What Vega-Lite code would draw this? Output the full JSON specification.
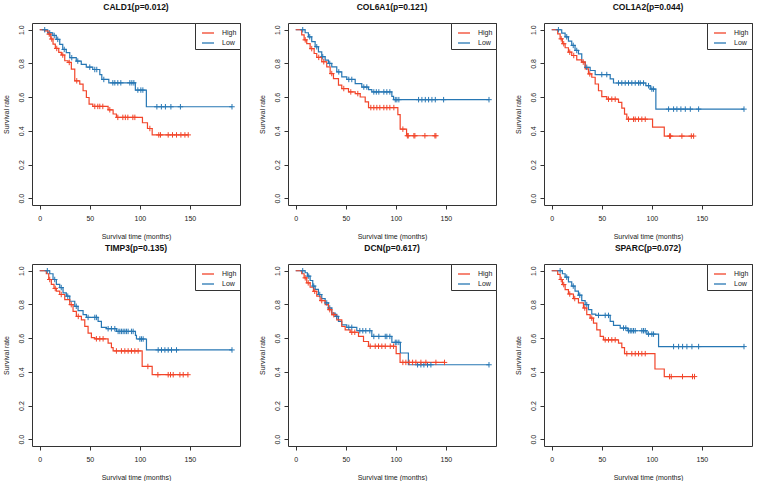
{
  "$schema": "https://vega.github.io/schema/vega-lite/v6.json",
  "background": "white",
  "padding": {"left": 1, "top": 2, "right": 0, "bottom": 0},
  "config": {
    "font": "Liberation Sans",
    "view": {"stroke": "#333333", "strokeWidth": 1},
    "axis": {"grid": false, "domain": false, "tickColor": "#333333", "tickSize": 4, "labelFontSize": 7, "titleFontSize": 7, "titleFontWeight": "normal", "labelColor": "#222222", "titleColor": "#222222", "labelPadding": 4},
    "axisX": {"titlePadding": 11, "labelPadding": 5},
    "axisY": {"titlePadding": 8, "labelAngle": -90, "labelAlign": "center", "labelBaseline": "bottom"},
    "legend": {"orient": "top-right", "offset": 0, "strokeColor": "#333333", "fillColor": "white", "padding": 3, "symbolOffset": 3, "labelFontSize": 7, "labelColor": "#222222", "symbolSize": 144, "symbolStrokeWidth": 1.3, "rowPadding": -3, "labelOffset": 7},
    "title": {"fontSize": 8.5, "fontWeight": "bold", "offset": 11, "frame": "group", "color": "#111111"}
  },
  "datasets": {
    "CALD1": [
      {"k":"Low","t":0,"s":1,"c":0},{"k":"Low","t":5,"s":1,"c":1},{"k":"Low","t":8,"s":0.982,"c":0},{"k":"Low","t":10,"s":0.982,"c":1},{"k":"Low","t":13,"s":0.966,"c":0},{"k":"Low","t":14.5,"s":0.966,"c":1},{"k":"Low","t":16.5,"s":0.943,"c":0},{"k":"Low","t":18,"s":0.943,"c":1},{"k":"Low","t":20,"s":0.913,"c":0},{"k":"Low","t":23,"s":0.883,"c":0},{"k":"Low","t":24.5,"s":0.883,"c":1},{"k":"Low","t":26.5,"s":0.864,"c":0},{"k":"Low","t":30,"s":0.834,"c":0},{"k":"Low","t":32,"s":0.834,"c":1},{"k":"Low","t":36.5,"s":0.814,"c":0},{"k":"Low","t":38,"s":0.814,"c":1},{"k":"Low","t":41.5,"s":0.794,"c":0},{"k":"Low","t":46.5,"s":0.778,"c":0},{"k":"Low","t":50,"s":0.778,"c":1},{"k":"Low","t":53,"s":0.764,"c":0},{"k":"Low","t":55,"s":0.764,"c":1},{"k":"Low","t":57,"s":0.764,"c":1},{"k":"Low","t":60,"s":0.734,"c":0},{"k":"Low","t":62,"s":0.705,"c":0},{"k":"Low","t":64,"s":0.705,"c":1},{"k":"Low","t":69,"s":0.685,"c":0},{"k":"Low","t":73,"s":0.685,"c":1},{"k":"Low","t":75,"s":0.685,"c":1},{"k":"Low","t":78,"s":0.685,"c":1},{"k":"Low","t":81,"s":0.685,"c":1},{"k":"Low","t":90,"s":0.685,"c":1},{"k":"Low","t":92,"s":0.685,"c":1},{"k":"Low","t":94,"s":0.685,"c":1},{"k":"Low","t":95.5,"s":0.642,"c":0},{"k":"Low","t":98,"s":0.642,"c":1},{"k":"Low","t":101,"s":0.642,"c":1},{"k":"Low","t":103,"s":0.642,"c":1},{"k":"Low","t":106.5,"s":0.543,"c":0},{"k":"Low","t":117,"s":0.543,"c":1},{"k":"Low","t":121.5,"s":0.543,"c":1},{"k":"Low","t":125.5,"s":0.543,"c":1},{"k":"Low","t":131,"s":0.543,"c":1},{"k":"Low","t":140.5,"s":0.543,"c":1},{"k":"Low","t":192,"s":0.543,"c":1},
      {"k":"High","t":0,"s":1,"c":0},{"k":"High","t":5,"s":0.993,"c":0},{"k":"High","t":8.3,"s":0.974,"c":0},{"k":"High","t":9.5,"s":0.974,"c":1},{"k":"High","t":11,"s":0.945,"c":0},{"k":"High","t":12,"s":0.945,"c":1},{"k":"High","t":13.3,"s":0.915,"c":0},{"k":"High","t":15.6,"s":0.889,"c":0},{"k":"High","t":17,"s":0.889,"c":1},{"k":"High","t":19,"s":0.866,"c":0},{"k":"High","t":21.6,"s":0.85,"c":0},{"k":"High","t":23,"s":0.85,"c":1},{"k":"High","t":25,"s":0.816,"c":0},{"k":"High","t":28.3,"s":0.806,"c":0},{"k":"High","t":29.5,"s":0.806,"c":1},{"k":"High","t":31.6,"s":0.766,"c":0},{"k":"High","t":35,"s":0.697,"c":0},{"k":"High","t":37,"s":0.697,"c":1},{"k":"High","t":40,"s":0.677,"c":0},{"k":"High","t":43.3,"s":0.638,"c":0},{"k":"High","t":46.6,"s":0.598,"c":0},{"k":"High","t":49.3,"s":0.559,"c":0},{"k":"High","t":53,"s":0.545,"c":0},{"k":"High","t":55,"s":0.545,"c":1},{"k":"High","t":58,"s":0.545,"c":1},{"k":"High","t":60,"s":0.545,"c":1},{"k":"High","t":63,"s":0.545,"c":1},{"k":"High","t":68.3,"s":0.525,"c":0},{"k":"High","t":70,"s":0.525,"c":1},{"k":"High","t":73.3,"s":0.5,"c":0},{"k":"High","t":76.6,"s":0.48,"c":0},{"k":"High","t":78,"s":0.48,"c":1},{"k":"High","t":83,"s":0.48,"c":1},{"k":"High","t":85.5,"s":0.48,"c":1},{"k":"High","t":88,"s":0.48,"c":1},{"k":"High","t":93,"s":0.48,"c":1},{"k":"High","t":95,"s":0.48,"c":1},{"k":"High","t":102.6,"s":0.448,"c":0},{"k":"High","t":107.6,"s":0.414,"c":0},{"k":"High","t":110,"s":0.414,"c":1},{"k":"High","t":112.3,"s":0.376,"c":0},{"k":"High","t":118.9,"s":0.376,"c":1},{"k":"High","t":120.6,"s":0.376,"c":1},{"k":"High","t":128.3,"s":0.376,"c":1},{"k":"High","t":132.6,"s":0.376,"c":1},{"k":"High","t":136.6,"s":0.376,"c":1},{"k":"High","t":141,"s":0.376,"c":1},{"k":"High","t":145,"s":0.376,"c":1},{"k":"High","t":148.3,"s":0.376,"c":1}
    ],
    "COL6A1": [
      {"k":"Low","t":0,"s":1,"c":0},{"k":"Low","t":7,"s":1,"c":1},{"k":"Low","t":9.4,"s":0.982,"c":0},{"k":"Low","t":12.7,"s":0.958,"c":0},{"k":"Low","t":14,"s":0.958,"c":1},{"k":"Low","t":16,"s":0.929,"c":0},{"k":"Low","t":19.4,"s":0.899,"c":0},{"k":"Low","t":21,"s":0.899,"c":1},{"k":"Low","t":22.7,"s":0.869,"c":0},{"k":"Low","t":26,"s":0.84,"c":0},{"k":"Low","t":27,"s":0.84,"c":1},{"k":"Low","t":29.4,"s":0.82,"c":0},{"k":"Low","t":32.7,"s":0.8,"c":0},{"k":"Low","t":34,"s":0.8,"c":1},{"k":"Low","t":36,"s":0.78,"c":0},{"k":"Low","t":41,"s":0.75,"c":0},{"k":"Low","t":43,"s":0.75,"c":1},{"k":"Low","t":46,"s":0.72,"c":0},{"k":"Low","t":51,"s":0.705,"c":0},{"k":"Low","t":53,"s":0.705,"c":1},{"k":"Low","t":56,"s":0.705,"c":1},{"k":"Low","t":59.4,"s":0.68,"c":0},{"k":"Low","t":66,"s":0.66,"c":0},{"k":"Low","t":68,"s":0.66,"c":1},{"k":"Low","t":71,"s":0.66,"c":1},{"k":"Low","t":72.7,"s":0.645,"c":0},{"k":"Low","t":76,"s":0.631,"c":0},{"k":"Low","t":78,"s":0.631,"c":1},{"k":"Low","t":80.5,"s":0.631,"c":1},{"k":"Low","t":83,"s":0.631,"c":1},{"k":"Low","t":88,"s":0.631,"c":1},{"k":"Low","t":91,"s":0.631,"c":1},{"k":"Low","t":94,"s":0.631,"c":1},{"k":"Low","t":96,"s":0.605,"c":0},{"k":"Low","t":97.7,"s":0.585,"c":0},{"k":"Low","t":99.4,"s":0.585,"c":1},{"k":"Low","t":101,"s":0.585,"c":1},{"k":"Low","t":103,"s":0.585,"c":1},{"k":"Low","t":122.7,"s":0.585,"c":1},{"k":"Low","t":126,"s":0.585,"c":1},{"k":"Low","t":129.4,"s":0.585,"c":1},{"k":"Low","t":132.7,"s":0.585,"c":1},{"k":"Low","t":136,"s":0.585,"c":1},{"k":"Low","t":139.4,"s":0.585,"c":1},{"k":"Low","t":147.7,"s":0.585,"c":1},{"k":"Low","t":193,"s":0.585,"c":1},
      {"k":"High","t":0,"s":1,"c":0},{"k":"High","t":6,"s":0.97,"c":0},{"k":"High","t":8.4,"s":0.94,"c":0},{"k":"High","t":9.5,"s":0.94,"c":1},{"k":"High","t":11,"s":0.918,"c":0},{"k":"High","t":14.4,"s":0.888,"c":0},{"k":"High","t":16,"s":0.888,"c":1},{"k":"High","t":18.4,"s":0.859,"c":0},{"k":"High","t":21,"s":0.836,"c":0},{"k":"High","t":23,"s":0.836,"c":1},{"k":"High","t":26,"s":0.81,"c":0},{"k":"High","t":28,"s":0.81,"c":1},{"k":"High","t":31,"s":0.78,"c":0},{"k":"High","t":34.4,"s":0.74,"c":0},{"k":"High","t":36,"s":0.74,"c":1},{"k":"High","t":37.7,"s":0.71,"c":0},{"k":"High","t":42.7,"s":0.671,"c":0},{"k":"High","t":46,"s":0.651,"c":0},{"k":"High","t":48,"s":0.651,"c":1},{"k":"High","t":52.7,"s":0.631,"c":0},{"k":"High","t":55,"s":0.631,"c":1},{"k":"High","t":59.4,"s":0.621,"c":0},{"k":"High","t":62,"s":0.621,"c":1},{"k":"High","t":64.4,"s":0.601,"c":0},{"k":"High","t":69.4,"s":0.572,"c":0},{"k":"High","t":72.7,"s":0.538,"c":0},{"k":"High","t":75,"s":0.538,"c":1},{"k":"High","t":78,"s":0.538,"c":1},{"k":"High","t":81,"s":0.538,"c":1},{"k":"High","t":84,"s":0.538,"c":1},{"k":"High","t":88,"s":0.538,"c":1},{"k":"High","t":91,"s":0.538,"c":1},{"k":"High","t":94,"s":0.538,"c":1},{"k":"High","t":98,"s":0.538,"c":1},{"k":"High","t":102,"s":0.496,"c":0},{"k":"High","t":104.3,"s":0.41,"c":0},{"k":"High","t":107,"s":0.41,"c":1},{"k":"High","t":110.7,"s":0.371,"c":0},{"k":"High","t":111.5,"s":0.371,"c":1},{"k":"High","t":112.4,"s":0.371,"c":1},{"k":"High","t":118,"s":0.371,"c":1},{"k":"High","t":119,"s":0.371,"c":1},{"k":"High","t":129,"s":0.371,"c":1},{"k":"High","t":139,"s":0.371,"c":1},{"k":"High","t":140,"s":0.371,"c":1}
    ],
    "COL1A2": [
      {"k":"Low","t":0,"s":1,"c":0},{"k":"Low","t":6.7,"s":1,"c":1},{"k":"Low","t":10,"s":0.98,"c":0},{"k":"Low","t":13.4,"s":0.958,"c":0},{"k":"Low","t":15,"s":0.958,"c":1},{"k":"Low","t":16.7,"s":0.933,"c":0},{"k":"Low","t":20,"s":0.907,"c":0},{"k":"Low","t":21.5,"s":0.907,"c":1},{"k":"Low","t":23.3,"s":0.877,"c":0},{"k":"Low","t":25,"s":0.877,"c":1},{"k":"Low","t":26.7,"s":0.857,"c":0},{"k":"Low","t":30,"s":0.808,"c":0},{"k":"Low","t":33.4,"s":0.777,"c":0},{"k":"Low","t":35,"s":0.777,"c":1},{"k":"Low","t":38.4,"s":0.758,"c":0},{"k":"Low","t":43.4,"s":0.734,"c":0},{"k":"Low","t":50,"s":0.734,"c":1},{"k":"Low","t":55,"s":0.734,"c":1},{"k":"Low","t":58.4,"s":0.708,"c":0},{"k":"Low","t":61.7,"s":0.684,"c":0},{"k":"Low","t":66.7,"s":0.684,"c":1},{"k":"Low","t":70,"s":0.684,"c":1},{"k":"Low","t":73.4,"s":0.684,"c":1},{"k":"Low","t":76.7,"s":0.684,"c":1},{"k":"Low","t":80,"s":0.684,"c":1},{"k":"Low","t":83.4,"s":0.684,"c":1},{"k":"Low","t":86.7,"s":0.684,"c":1},{"k":"Low","t":88.4,"s":0.684,"c":1},{"k":"Low","t":91.7,"s":0.684,"c":1},{"k":"Low","t":94,"s":0.668,"c":0},{"k":"Low","t":96.7,"s":0.668,"c":1},{"k":"Low","t":98.4,"s":0.648,"c":0},{"k":"Low","t":100,"s":0.648,"c":1},{"k":"Low","t":101.7,"s":0.648,"c":1},{"k":"Low","t":104,"s":0.529,"c":0},{"k":"Low","t":116.7,"s":0.529,"c":1},{"k":"Low","t":121.7,"s":0.529,"c":1},{"k":"Low","t":125,"s":0.529,"c":1},{"k":"Low","t":129,"s":0.529,"c":1},{"k":"Low","t":133.4,"s":0.529,"c":1},{"k":"Low","t":138.4,"s":0.529,"c":1},{"k":"Low","t":146.7,"s":0.529,"c":1},{"k":"Low","t":192,"s":0.529,"c":1},
      {"k":"High","t":0,"s":1,"c":0},{"k":"High","t":6,"s":0.976,"c":0},{"k":"High","t":8.4,"s":0.946,"c":0},{"k":"High","t":9.5,"s":0.946,"c":1},{"k":"High","t":10.7,"s":0.917,"c":0},{"k":"High","t":12,"s":0.917,"c":1},{"k":"High","t":13.4,"s":0.893,"c":0},{"k":"High","t":16.7,"s":0.867,"c":0},{"k":"High","t":18,"s":0.867,"c":1},{"k":"High","t":20,"s":0.847,"c":0},{"k":"High","t":22,"s":0.847,"c":1},{"k":"High","t":25,"s":0.821,"c":0},{"k":"High","t":30,"s":0.808,"c":0},{"k":"High","t":31.5,"s":0.808,"c":1},{"k":"High","t":33.4,"s":0.768,"c":0},{"k":"High","t":36.7,"s":0.738,"c":0},{"k":"High","t":38,"s":0.738,"c":1},{"k":"High","t":40,"s":0.718,"c":0},{"k":"High","t":43.4,"s":0.678,"c":0},{"k":"High","t":46.7,"s":0.638,"c":0},{"k":"High","t":50,"s":0.603,"c":0},{"k":"High","t":55,"s":0.588,"c":0},{"k":"High","t":56.7,"s":0.588,"c":1},{"k":"High","t":60,"s":0.588,"c":1},{"k":"High","t":63.4,"s":0.588,"c":1},{"k":"High","t":66.7,"s":0.569,"c":0},{"k":"High","t":70,"s":0.535,"c":0},{"k":"High","t":72.7,"s":0.499,"c":0},{"k":"High","t":75,"s":0.469,"c":0},{"k":"High","t":76.7,"s":0.469,"c":1},{"k":"High","t":81.7,"s":0.469,"c":1},{"k":"High","t":83.4,"s":0.469,"c":1},{"k":"High","t":86.7,"s":0.469,"c":1},{"k":"High","t":90,"s":0.469,"c":1},{"k":"High","t":93.4,"s":0.469,"c":1},{"k":"High","t":100.7,"s":0.422,"c":0},{"k":"High","t":112.4,"s":0.369,"c":0},{"k":"High","t":117.7,"s":0.369,"c":1},{"k":"High","t":118.7,"s":0.369,"c":1},{"k":"High","t":130,"s":0.369,"c":1},{"k":"High","t":139.4,"s":0.369,"c":1},{"k":"High","t":141.7,"s":0.369,"c":1}
    ],
    "TIMP3": [
      {"k":"Low","t":0,"s":1,"c":0},{"k":"Low","t":7.6,"s":1,"c":1},{"k":"Low","t":10,"s":0.982,"c":0},{"k":"Low","t":13.3,"s":0.948,"c":0},{"k":"Low","t":15,"s":0.948,"c":1},{"k":"Low","t":16.6,"s":0.919,"c":0},{"k":"Low","t":20,"s":0.9,"c":0},{"k":"Low","t":21.5,"s":0.9,"c":1},{"k":"Low","t":23.3,"s":0.869,"c":0},{"k":"Low","t":26.6,"s":0.849,"c":0},{"k":"Low","t":28,"s":0.849,"c":1},{"k":"Low","t":30,"s":0.819,"c":0},{"k":"Low","t":35,"s":0.789,"c":0},{"k":"Low","t":36.5,"s":0.789,"c":1},{"k":"Low","t":38.3,"s":0.763,"c":0},{"k":"Low","t":43.3,"s":0.739,"c":0},{"k":"Low","t":46.6,"s":0.723,"c":0},{"k":"Low","t":48.3,"s":0.723,"c":1},{"k":"Low","t":55,"s":0.723,"c":1},{"k":"Low","t":56.6,"s":0.723,"c":1},{"k":"Low","t":58.3,"s":0.699,"c":0},{"k":"Low","t":61.6,"s":0.664,"c":0},{"k":"Low","t":66.6,"s":0.656,"c":0},{"k":"Low","t":68.3,"s":0.656,"c":1},{"k":"Low","t":71.6,"s":0.656,"c":1},{"k":"Low","t":75,"s":0.656,"c":1},{"k":"Low","t":76.6,"s":0.64,"c":0},{"k":"Low","t":78.3,"s":0.64,"c":1},{"k":"Low","t":80,"s":0.64,"c":1},{"k":"Low","t":81.6,"s":0.64,"c":1},{"k":"Low","t":83.3,"s":0.64,"c":1},{"k":"Low","t":85,"s":0.64,"c":1},{"k":"Low","t":86.6,"s":0.64,"c":1},{"k":"Low","t":88.3,"s":0.64,"c":1},{"k":"Low","t":91.6,"s":0.64,"c":1},{"k":"Low","t":93.3,"s":0.64,"c":1},{"k":"Low","t":95.6,"s":0.616,"c":0},{"k":"Low","t":96.6,"s":0.595,"c":0},{"k":"Low","t":100,"s":0.595,"c":1},{"k":"Low","t":101.6,"s":0.595,"c":1},{"k":"Low","t":103.3,"s":0.595,"c":1},{"k":"Low","t":106.6,"s":0.53,"c":0},{"k":"Low","t":118.3,"s":0.53,"c":1},{"k":"Low","t":121.6,"s":0.53,"c":1},{"k":"Low","t":125,"s":0.53,"c":1},{"k":"Low","t":128.3,"s":0.53,"c":1},{"k":"Low","t":131.6,"s":0.53,"c":1},{"k":"Low","t":136.6,"s":0.53,"c":1},{"k":"Low","t":192,"s":0.53,"c":1},
      {"k":"High","t":0,"s":1,"c":0},{"k":"High","t":6.6,"s":0.982,"c":0},{"k":"High","t":9,"s":0.948,"c":0},{"k":"High","t":10,"s":0.948,"c":1},{"k":"High","t":11.6,"s":0.919,"c":0},{"k":"High","t":14.3,"s":0.895,"c":0},{"k":"High","t":15.5,"s":0.895,"c":1},{"k":"High","t":16.6,"s":0.879,"c":0},{"k":"High","t":20,"s":0.859,"c":0},{"k":"High","t":21.5,"s":0.859,"c":1},{"k":"High","t":25,"s":0.829,"c":0},{"k":"High","t":30,"s":0.799,"c":0},{"k":"High","t":31.5,"s":0.799,"c":1},{"k":"High","t":33.3,"s":0.759,"c":0},{"k":"High","t":36.6,"s":0.729,"c":0},{"k":"High","t":38.5,"s":0.729,"c":1},{"k":"High","t":41.6,"s":0.709,"c":0},{"k":"High","t":45,"s":0.67,"c":0},{"k":"High","t":48.3,"s":0.63,"c":0},{"k":"High","t":51.6,"s":0.603,"c":0},{"k":"High","t":55,"s":0.596,"c":0},{"k":"High","t":56.6,"s":0.596,"c":1},{"k":"High","t":60,"s":0.596,"c":1},{"k":"High","t":63.3,"s":0.596,"c":1},{"k":"High","t":68.3,"s":0.57,"c":0},{"k":"High","t":71.6,"s":0.544,"c":0},{"k":"High","t":73.3,"s":0.524,"c":0},{"k":"High","t":76.6,"s":0.524,"c":1},{"k":"High","t":81.6,"s":0.524,"c":1},{"k":"High","t":85,"s":0.524,"c":1},{"k":"High","t":88.3,"s":0.524,"c":1},{"k":"High","t":91.6,"s":0.524,"c":1},{"k":"High","t":95,"s":0.524,"c":1},{"k":"High","t":98.3,"s":0.524,"c":1},{"k":"High","t":102.3,"s":0.432,"c":0},{"k":"High","t":108,"s":0.432,"c":1},{"k":"High","t":112.3,"s":0.383,"c":0},{"k":"High","t":118,"s":0.383,"c":1},{"k":"High","t":128.3,"s":0.383,"c":1},{"k":"High","t":130.6,"s":0.383,"c":1},{"k":"High","t":133.3,"s":0.383,"c":1},{"k":"High","t":140,"s":0.383,"c":1},{"k":"High","t":143.3,"s":0.383,"c":1},{"k":"High","t":148,"s":0.383,"c":1}
    ],
    "DCN": [
      {"k":"Low","t":0,"s":1,"c":0},{"k":"Low","t":7,"s":1,"c":1},{"k":"Low","t":9.4,"s":0.988,"c":0},{"k":"Low","t":11.7,"s":0.968,"c":0},{"k":"Low","t":13,"s":0.968,"c":1},{"k":"Low","t":14.4,"s":0.942,"c":0},{"k":"Low","t":17,"s":0.909,"c":0},{"k":"Low","t":18,"s":0.909,"c":1},{"k":"Low","t":19.4,"s":0.889,"c":0},{"k":"Low","t":22.7,"s":0.859,"c":0},{"k":"Low","t":24,"s":0.859,"c":1},{"k":"Low","t":26,"s":0.835,"c":0},{"k":"Low","t":29.4,"s":0.809,"c":0},{"k":"Low","t":31,"s":0.809,"c":1},{"k":"Low","t":32.7,"s":0.779,"c":0},{"k":"Low","t":34,"s":0.779,"c":1},{"k":"Low","t":36,"s":0.749,"c":0},{"k":"Low","t":39.4,"s":0.729,"c":0},{"k":"Low","t":41,"s":0.729,"c":1},{"k":"Low","t":42.7,"s":0.699,"c":0},{"k":"Low","t":46,"s":0.679,"c":0},{"k":"Low","t":51,"s":0.664,"c":0},{"k":"Low","t":53,"s":0.664,"c":1},{"k":"Low","t":56,"s":0.664,"c":1},{"k":"Low","t":61,"s":0.644,"c":0},{"k":"Low","t":64,"s":0.644,"c":1},{"k":"Low","t":67,"s":0.644,"c":1},{"k":"Low","t":70,"s":0.644,"c":1},{"k":"Low","t":74,"s":0.644,"c":1},{"k":"Low","t":76,"s":0.61,"c":0},{"k":"Low","t":78,"s":0.61,"c":1},{"k":"Low","t":83,"s":0.61,"c":1},{"k":"Low","t":89.4,"s":0.61,"c":1},{"k":"Low","t":91,"s":0.61,"c":1},{"k":"Low","t":94,"s":0.61,"c":1},{"k":"Low","t":96,"s":0.575,"c":0},{"k":"Low","t":99.4,"s":0.575,"c":1},{"k":"Low","t":101,"s":0.575,"c":1},{"k":"Low","t":103,"s":0.575,"c":1},{"k":"Low","t":104.5,"s":0.512,"c":0},{"k":"Low","t":112.5,"s":0.442,"c":0},{"k":"Low","t":121.7,"s":0.442,"c":1},{"k":"Low","t":125,"s":0.442,"c":1},{"k":"Low","t":128,"s":0.442,"c":1},{"k":"Low","t":131.6,"s":0.442,"c":1},{"k":"Low","t":135,"s":0.442,"c":1},{"k":"Low","t":193,"s":0.442,"c":1},
      {"k":"High","t":0,"s":1,"c":0},{"k":"High","t":6,"s":0.982,"c":0},{"k":"High","t":8.4,"s":0.958,"c":0},{"k":"High","t":9.5,"s":0.958,"c":1},{"k":"High","t":11,"s":0.928,"c":0},{"k":"High","t":12.5,"s":0.928,"c":1},{"k":"High","t":14.4,"s":0.902,"c":0},{"k":"High","t":17.7,"s":0.878,"c":0},{"k":"High","t":19,"s":0.878,"c":1},{"k":"High","t":21,"s":0.849,"c":0},{"k":"High","t":24.4,"s":0.823,"c":0},{"k":"High","t":26,"s":0.823,"c":1},{"k":"High","t":29.4,"s":0.799,"c":0},{"k":"High","t":32.7,"s":0.769,"c":0},{"k":"High","t":34,"s":0.769,"c":1},{"k":"High","t":36,"s":0.739,"c":0},{"k":"High","t":38,"s":0.739,"c":1},{"k":"High","t":41,"s":0.709,"c":0},{"k":"High","t":46,"s":0.669,"c":0},{"k":"High","t":49.4,"s":0.649,"c":0},{"k":"High","t":54.4,"s":0.635,"c":0},{"k":"High","t":56,"s":0.635,"c":1},{"k":"High","t":59,"s":0.635,"c":1},{"k":"High","t":62.7,"s":0.61,"c":0},{"k":"High","t":67.7,"s":0.58,"c":0},{"k":"High","t":72.7,"s":0.552,"c":0},{"k":"High","t":74.4,"s":0.552,"c":1},{"k":"High","t":79.4,"s":0.552,"c":1},{"k":"High","t":82.7,"s":0.552,"c":1},{"k":"High","t":86,"s":0.552,"c":1},{"k":"High","t":89.4,"s":0.552,"c":1},{"k":"High","t":94.4,"s":0.552,"c":1},{"k":"High","t":97.7,"s":0.552,"c":1},{"k":"High","t":100.3,"s":0.508,"c":0},{"k":"High","t":104.2,"s":0.456,"c":0},{"k":"High","t":107,"s":0.456,"c":1},{"k":"High","t":110,"s":0.456,"c":1},{"k":"High","t":113.3,"s":0.456,"c":1},{"k":"High","t":116.7,"s":0.456,"c":1},{"k":"High","t":120,"s":0.456,"c":1},{"k":"High","t":125,"s":0.456,"c":1},{"k":"High","t":130,"s":0.456,"c":1},{"k":"High","t":140,"s":0.456,"c":1},{"k":"High","t":148.6,"s":0.456,"c":1}
    ],
    "SPARC": [
      {"k":"Low","t":0,"s":1,"c":0},{"k":"Low","t":8.4,"s":1,"c":1},{"k":"Low","t":10.7,"s":0.982,"c":0},{"k":"Low","t":13.4,"s":0.962,"c":0},{"k":"Low","t":15,"s":0.962,"c":1},{"k":"Low","t":16.7,"s":0.934,"c":0},{"k":"Low","t":20,"s":0.909,"c":0},{"k":"Low","t":21.5,"s":0.909,"c":1},{"k":"Low","t":23.3,"s":0.879,"c":0},{"k":"Low","t":26.7,"s":0.855,"c":0},{"k":"Low","t":28,"s":0.855,"c":1},{"k":"Low","t":30,"s":0.823,"c":0},{"k":"Low","t":33.4,"s":0.799,"c":0},{"k":"Low","t":35,"s":0.799,"c":1},{"k":"Low","t":36.7,"s":0.769,"c":0},{"k":"Low","t":40,"s":0.743,"c":0},{"k":"Low","t":44,"s":0.735,"c":0},{"k":"Low","t":46.7,"s":0.735,"c":1},{"k":"Low","t":53.4,"s":0.735,"c":1},{"k":"Low","t":56.7,"s":0.735,"c":1},{"k":"Low","t":58.4,"s":0.699,"c":0},{"k":"Low","t":61.7,"s":0.676,"c":0},{"k":"Low","t":68.4,"s":0.66,"c":0},{"k":"Low","t":71.7,"s":0.66,"c":1},{"k":"Low","t":74,"s":0.66,"c":1},{"k":"Low","t":76,"s":0.644,"c":0},{"k":"Low","t":76.7,"s":0.644,"c":1},{"k":"Low","t":78.4,"s":0.644,"c":1},{"k":"Low","t":80,"s":0.644,"c":1},{"k":"Low","t":81.7,"s":0.644,"c":1},{"k":"Low","t":83.4,"s":0.644,"c":1},{"k":"Low","t":90,"s":0.644,"c":1},{"k":"Low","t":91.7,"s":0.644,"c":1},{"k":"Low","t":93.4,"s":0.644,"c":1},{"k":"Low","t":95,"s":0.624,"c":0},{"k":"Low","t":96.7,"s":0.624,"c":1},{"k":"Low","t":100,"s":0.624,"c":1},{"k":"Low","t":101.7,"s":0.624,"c":1},{"k":"Low","t":106.7,"s":0.55,"c":0},{"k":"Low","t":121.7,"s":0.55,"c":1},{"k":"Low","t":126.7,"s":0.55,"c":1},{"k":"Low","t":130.7,"s":0.55,"c":1},{"k":"Low","t":135,"s":0.55,"c":1},{"k":"Low","t":140,"s":0.55,"c":1},{"k":"Low","t":146.7,"s":0.55,"c":1},{"k":"Low","t":192,"s":0.55,"c":1},
      {"k":"High","t":0,"s":1,"c":0},{"k":"High","t":6,"s":0.978,"c":0},{"k":"High","t":8.4,"s":0.948,"c":0},{"k":"High","t":9.5,"s":0.948,"c":1},{"k":"High","t":10.7,"s":0.918,"c":0},{"k":"High","t":12,"s":0.918,"c":1},{"k":"High","t":13.4,"s":0.888,"c":0},{"k":"High","t":16.7,"s":0.862,"c":0},{"k":"High","t":18,"s":0.862,"c":1},{"k":"High","t":21.7,"s":0.835,"c":0},{"k":"High","t":23,"s":0.835,"c":1},{"k":"High","t":26.7,"s":0.809,"c":0},{"k":"High","t":31.7,"s":0.779,"c":0},{"k":"High","t":33,"s":0.779,"c":1},{"k":"High","t":35,"s":0.739,"c":0},{"k":"High","t":38.4,"s":0.719,"c":0},{"k":"High","t":40,"s":0.719,"c":1},{"k":"High","t":41.7,"s":0.689,"c":0},{"k":"High","t":45,"s":0.649,"c":0},{"k":"High","t":48.4,"s":0.61,"c":0},{"k":"High","t":51.7,"s":0.59,"c":0},{"k":"High","t":53.4,"s":0.59,"c":1},{"k":"High","t":56.7,"s":0.59,"c":1},{"k":"High","t":60,"s":0.59,"c":1},{"k":"High","t":63.4,"s":0.59,"c":1},{"k":"High","t":66.7,"s":0.57,"c":0},{"k":"High","t":70,"s":0.544,"c":0},{"k":"High","t":72.7,"s":0.508,"c":0},{"k":"High","t":75,"s":0.508,"c":1},{"k":"High","t":80,"s":0.508,"c":1},{"k":"High","t":83.4,"s":0.508,"c":1},{"k":"High","t":86.7,"s":0.508,"c":1},{"k":"High","t":90,"s":0.508,"c":1},{"k":"High","t":93.4,"s":0.508,"c":1},{"k":"High","t":103.1,"s":0.417,"c":0},{"k":"High","t":112.4,"s":0.372,"c":0},{"k":"High","t":117.7,"s":0.372,"c":1},{"k":"High","t":119.4,"s":0.372,"c":1},{"k":"High","t":130.6,"s":0.372,"c":1},{"k":"High","t":140.6,"s":0.372,"c":1},{"k":"High","t":142.6,"s":0.372,"c":1}
    ]
  },
  "columns": 3,
  "spacing": {"row": 3, "column": 16},
  "resolve": {"scale": {"color": "independent", "x": "independent", "y": "independent"}},
  "concat": [
    {"title": "CALD1(p=0.012)", "width": 208, "height": 182, "data": {"name": "CALD1"},
     "encoding": {
       "x": {"field": "t", "type": "quantitative", "scale": {"domain": [-7.7, 200], "nice": false, "zero": false}, "axis": {"values": [0, 50, 100, 150], "title": "Survival time (months)"}},
       "y": {"field": "s", "type": "quantitative", "scale": {"domain": [-0.04, 1.04], "nice": false, "zero": false}, "axis": {"values": [0, 0.2, 0.4, 0.6, 0.8, 1], "format": ".1f", "title": "Survival rate"}},
       "color": {"field": "k", "type": "nominal", "scale": {"domain": ["High", "Low"], "range": ["#F2452A", "#2777B4"]}, "legend": {"title": null, "symbolType": "stroke"}}
     },
     "layer": [
       {"mark": {"type": "line", "interpolate": "step-after", "strokeWidth": 1.2}, "encoding": {"order": {"field": "t", "type": "quantitative"}}},
       {"transform": [{"filter": "datum.c == 1"}], "mark": {"type": "point", "shape": "M-1,0H1M0,-1V1", "filled": false, "size": 30, "strokeWidth": 1, "opacity": 1}}
     ]},
    {"title": "COL6A1(p=0.121)", "width": 208, "height": 182, "data": {"name": "COL6A1"},
     "encoding": {
       "x": {"field": "t", "type": "quantitative", "scale": {"domain": [-7.7, 200], "nice": false, "zero": false}, "axis": {"values": [0, 50, 100, 150], "title": "Survival time (months)"}},
       "y": {"field": "s", "type": "quantitative", "scale": {"domain": [-0.04, 1.04], "nice": false, "zero": false}, "axis": {"values": [0, 0.2, 0.4, 0.6, 0.8, 1], "format": ".1f", "title": "Survival rate"}},
       "color": {"field": "k", "type": "nominal", "scale": {"domain": ["High", "Low"], "range": ["#F2452A", "#2777B4"]}, "legend": {"title": null, "symbolType": "stroke"}}
     },
     "layer": [
       {"mark": {"type": "line", "interpolate": "step-after", "strokeWidth": 1.2}, "encoding": {"order": {"field": "t", "type": "quantitative"}}},
       {"transform": [{"filter": "datum.c == 1"}], "mark": {"type": "point", "shape": "M-1,0H1M0,-1V1", "filled": false, "size": 30, "strokeWidth": 1, "opacity": 1}}
     ]},
    {"title": "COL1A2(p=0.044)", "width": 208, "height": 182, "data": {"name": "COL1A2"},
     "encoding": {
       "x": {"field": "t", "type": "quantitative", "scale": {"domain": [-7.7, 200], "nice": false, "zero": false}, "axis": {"values": [0, 50, 100, 150], "title": "Survival time (months)"}},
       "y": {"field": "s", "type": "quantitative", "scale": {"domain": [-0.04, 1.04], "nice": false, "zero": false}, "axis": {"values": [0, 0.2, 0.4, 0.6, 0.8, 1], "format": ".1f", "title": "Survival rate"}},
       "color": {"field": "k", "type": "nominal", "scale": {"domain": ["High", "Low"], "range": ["#F2452A", "#2777B4"]}, "legend": {"title": null, "symbolType": "stroke"}}
     },
     "layer": [
       {"mark": {"type": "line", "interpolate": "step-after", "strokeWidth": 1.2}, "encoding": {"order": {"field": "t", "type": "quantitative"}}},
       {"transform": [{"filter": "datum.c == 1"}], "mark": {"type": "point", "shape": "M-1,0H1M0,-1V1", "filled": false, "size": 30, "strokeWidth": 1, "opacity": 1}}
     ]},
    {"title": "TIMP3(p=0.135)", "width": 208, "height": 182, "data": {"name": "TIMP3"},
     "encoding": {
       "x": {"field": "t", "type": "quantitative", "scale": {"domain": [-7.7, 200], "nice": false, "zero": false}, "axis": {"values": [0, 50, 100, 150], "title": "Survival time (months)"}},
       "y": {"field": "s", "type": "quantitative", "scale": {"domain": [-0.04, 1.04], "nice": false, "zero": false}, "axis": {"values": [0, 0.2, 0.4, 0.6, 0.8, 1], "format": ".1f", "title": "Survival rate"}},
       "color": {"field": "k", "type": "nominal", "scale": {"domain": ["High", "Low"], "range": ["#F2452A", "#2777B4"]}, "legend": {"title": null, "symbolType": "stroke"}}
     },
     "layer": [
       {"mark": {"type": "line", "interpolate": "step-after", "strokeWidth": 1.2}, "encoding": {"order": {"field": "t", "type": "quantitative"}}},
       {"transform": [{"filter": "datum.c == 1"}], "mark": {"type": "point", "shape": "M-1,0H1M0,-1V1", "filled": false, "size": 30, "strokeWidth": 1, "opacity": 1}}
     ]},
    {"title": "DCN(p=0.617)", "width": 208, "height": 182, "data": {"name": "DCN"},
     "encoding": {
       "x": {"field": "t", "type": "quantitative", "scale": {"domain": [-7.7, 200], "nice": false, "zero": false}, "axis": {"values": [0, 50, 100, 150], "title": "Survival time (months)"}},
       "y": {"field": "s", "type": "quantitative", "scale": {"domain": [-0.04, 1.04], "nice": false, "zero": false}, "axis": {"values": [0, 0.2, 0.4, 0.6, 0.8, 1], "format": ".1f", "title": "Survival rate"}},
       "color": {"field": "k", "type": "nominal", "scale": {"domain": ["High", "Low"], "range": ["#F2452A", "#2777B4"]}, "legend": {"title": null, "symbolType": "stroke"}}
     },
     "layer": [
       {"mark": {"type": "line", "interpolate": "step-after", "strokeWidth": 1.2}, "encoding": {"order": {"field": "t", "type": "quantitative"}}},
       {"transform": [{"filter": "datum.c == 1"}], "mark": {"type": "point", "shape": "M-1,0H1M0,-1V1", "filled": false, "size": 30, "strokeWidth": 1, "opacity": 1}}
     ]},
    {"title": "SPARC(p=0.072)", "width": 208, "height": 182, "data": {"name": "SPARC"},
     "encoding": {
       "x": {"field": "t", "type": "quantitative", "scale": {"domain": [-7.7, 200], "nice": false, "zero": false}, "axis": {"values": [0, 50, 100, 150], "title": "Survival time (months)"}},
       "y": {"field": "s", "type": "quantitative", "scale": {"domain": [-0.04, 1.04], "nice": false, "zero": false}, "axis": {"values": [0, 0.2, 0.4, 0.6, 0.8, 1], "format": ".1f", "title": "Survival rate"}},
       "color": {"field": "k", "type": "nominal", "scale": {"domain": ["High", "Low"], "range": ["#F2452A", "#2777B4"]}, "legend": {"title": null, "symbolType": "stroke"}}
     },
     "layer": [
       {"mark": {"type": "line", "interpolate": "step-after", "strokeWidth": 1.2}, "encoding": {"order": {"field": "t", "type": "quantitative"}}},
       {"transform": [{"filter": "datum.c == 1"}], "mark": {"type": "point", "shape": "M-1,0H1M0,-1V1", "filled": false, "size": 30, "strokeWidth": 1, "opacity": 1}}
     ]}
  ]
}
